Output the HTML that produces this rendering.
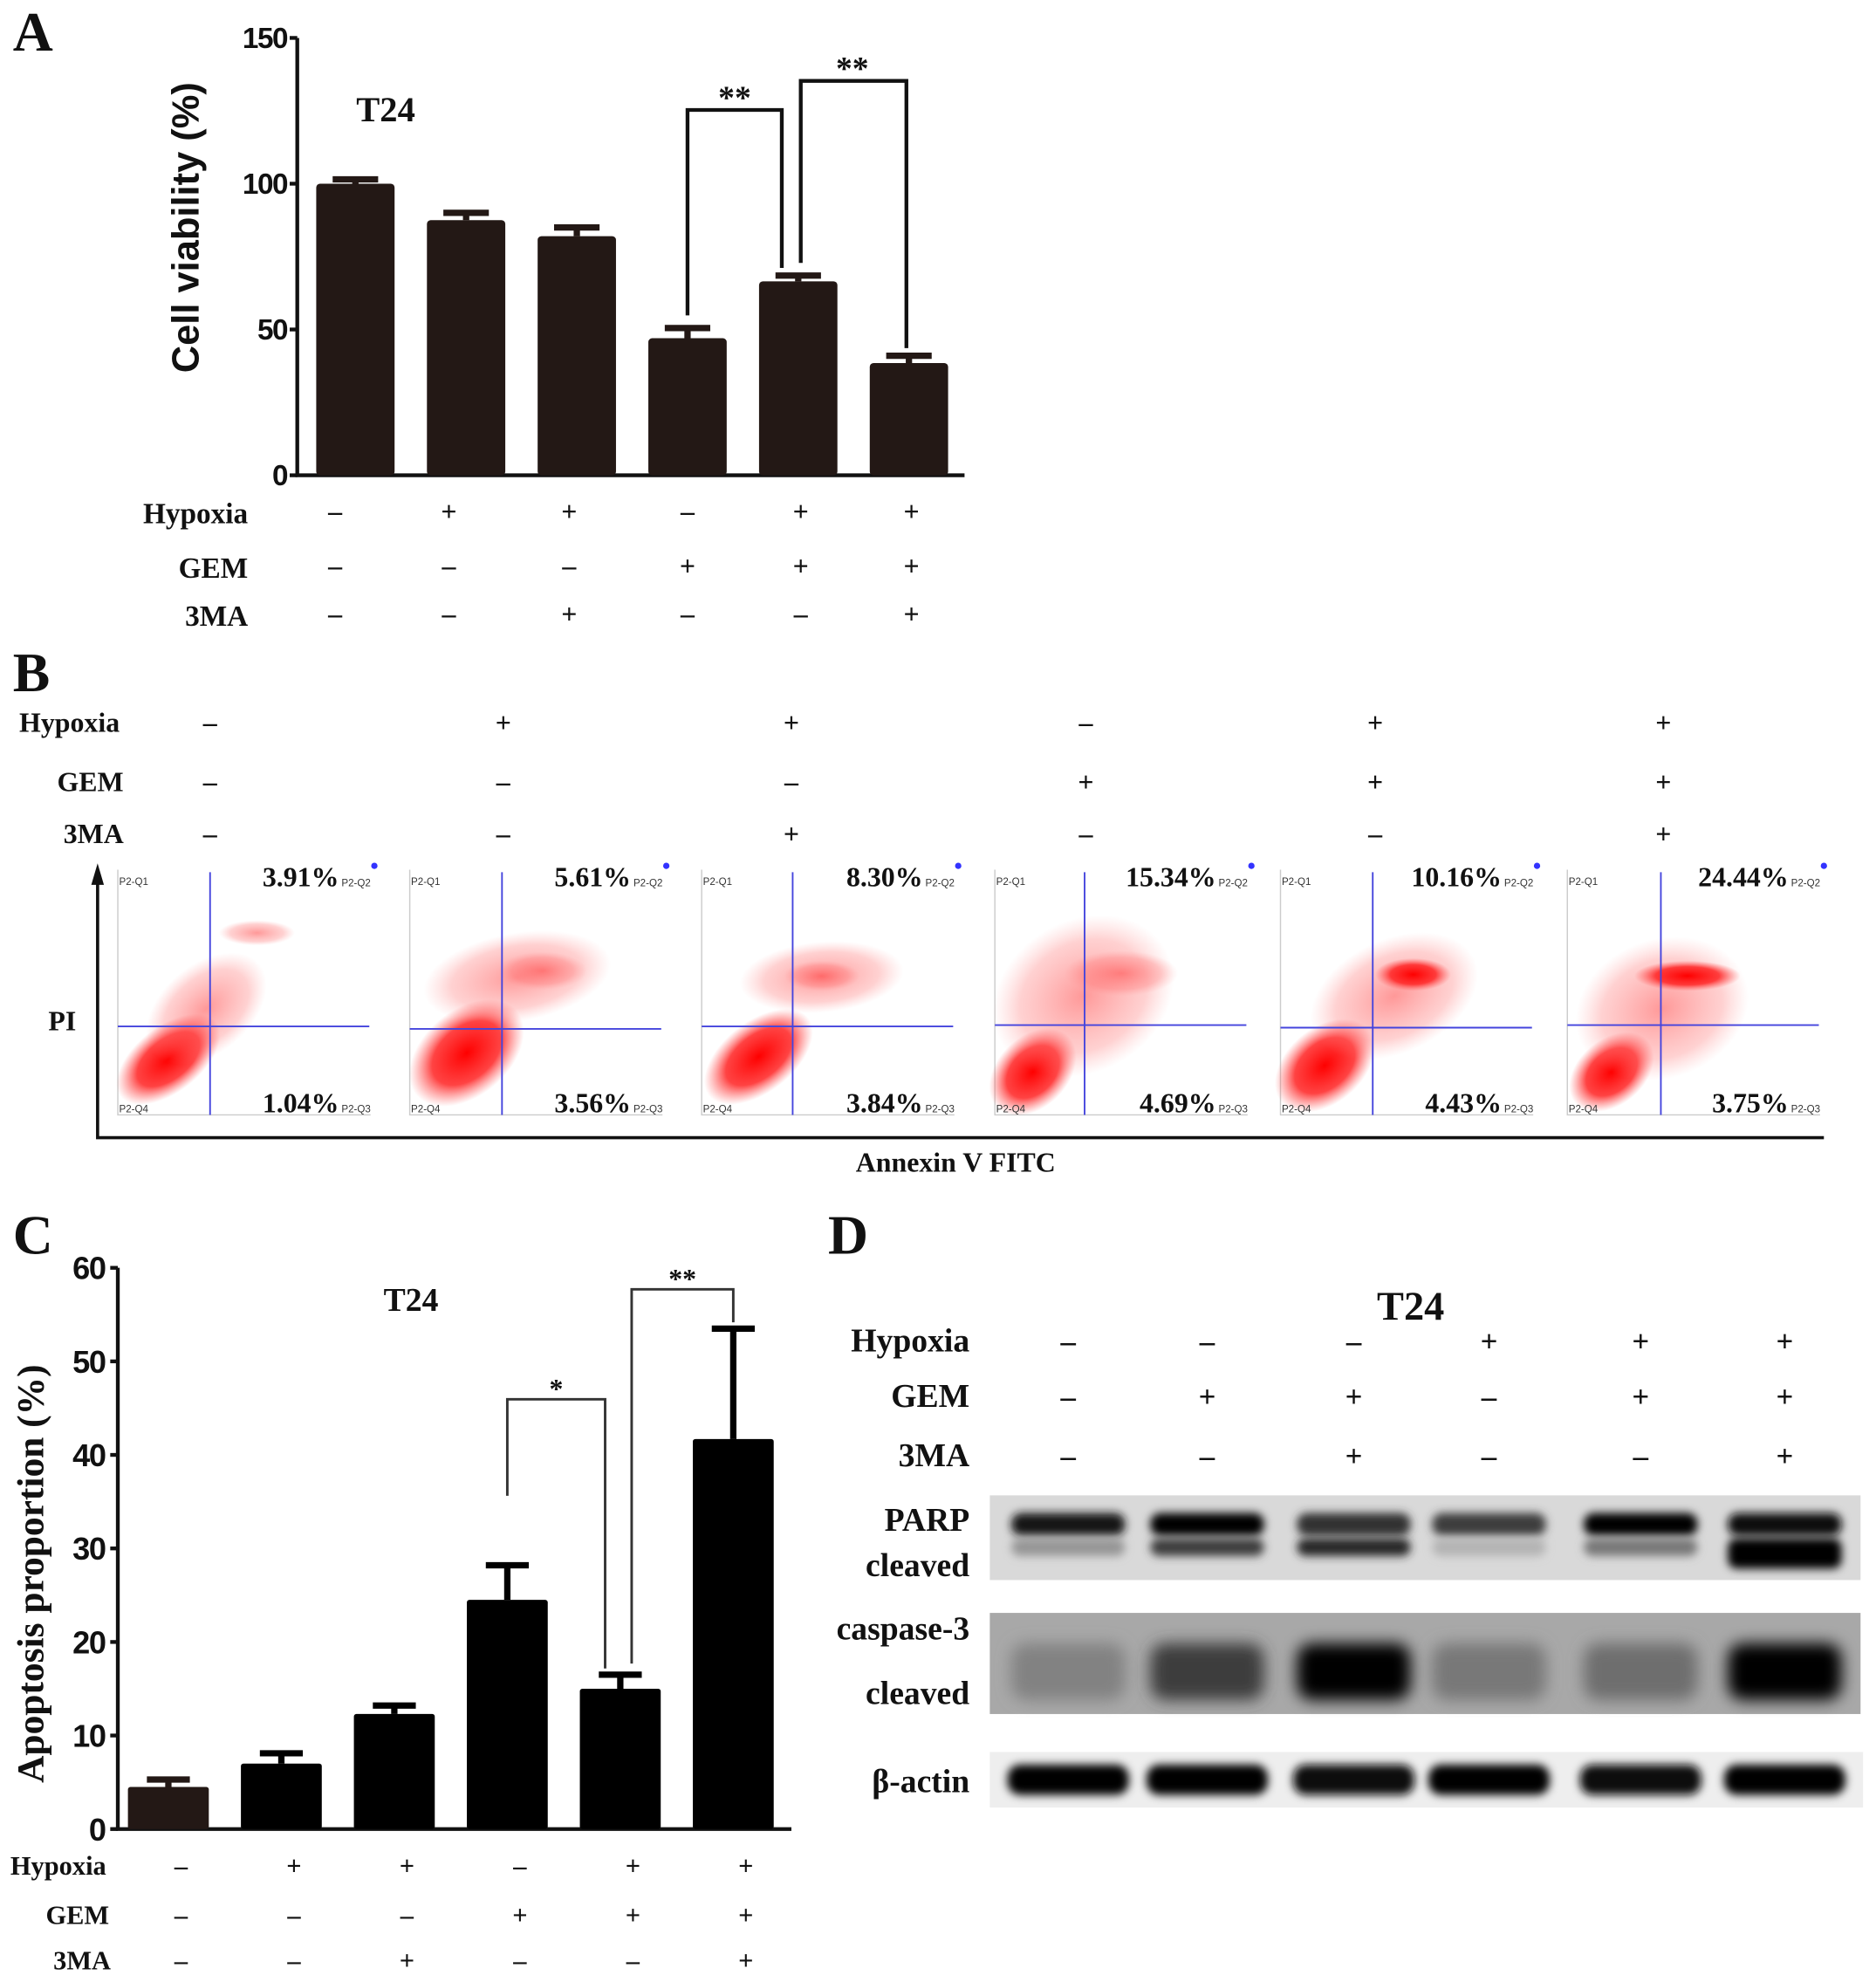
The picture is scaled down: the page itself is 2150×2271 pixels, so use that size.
<!DOCTYPE html>
<html><head><meta charset="utf-8"><style>
html,body{margin:0;padding:0;background:#fff;}
svg{display:block;}
.ser{font-family:"Liberation Serif",serif;font-weight:bold;fill:#111;}
.san{font-family:"Liberation Sans",sans-serif;font-weight:bold;fill:#111;}
</style></head><body>
<svg id="fig" width="2150" height="2271" viewBox="0 0 1484 1568" xmlns="http://www.w3.org/2000/svg">
<defs>
<filter id="blur3" x="-30%" y="-60%" width="160%" height="220%"><feGaussianBlur stdDeviation="3.5"/></filter>
<filter id="blur6" x="-30%" y="-60%" width="160%" height="220%"><feGaussianBlur stdDeviation="6"/></filter>
<radialGradient id="dense"><stop offset="0" stop-color="#f00" stop-opacity="1"/><stop offset="0.6" stop-color="#f22" stop-opacity="0.85"/><stop offset="1" stop-color="#f55" stop-opacity="0"/></radialGradient>
<radialGradient id="faint"><stop offset="0" stop-color="#f44" stop-opacity="0.55"/><stop offset="0.7" stop-color="#f66" stop-opacity="0.3"/><stop offset="1" stop-color="#f88" stop-opacity="0"/></radialGradient>
</defs>
<g id="panelA"></g>
<g id="panelB"></g>
<g id="panelC"></g>
<g id="panelD"></g>
</svg>
<script>
// ---- Panel A data ----
const aCategories = ["G1","G2","G3","G4","G5","G6"];
const aValues = [100, 87.5, 82, 47, 66.5, 38.5];
const aErrors = [1.5, 2.5, 3, 3.5, 2, 2.5];
const aTicks = [0, 50, 100, 150];
// ---- Panel C data ----
const cCategories = ["G1","G2","G3","G4","G5","G6"];
const cValues = [4.5, 7, 12.3, 24.5, 15, 41.7];
const cErrors = [0.8, 1.1, 0.9, 3.7, 1.5, 11.8];
const cTicks = [0, 10, 20, 30, 40, 50, 60];
// ---- Condition rows ----
const rowsAC = {Hypoxia:["-","+","+","-","+","+"], GEM:["-","-","-","+","+","+"], "3MA":["-","-","+","-","-","+"]};
const rowsD = {Hypoxia:["-","-","-","+","+","+"], GEM:["-","+","+","-","+","+"], "3MA":["-","-","+","-","-","+"]};
const flowTop = ["3.91%","5.61%","8.30%","15.34%","10.16%","24.44%"];
const flowBottom = ["1.04%","3.56%","3.84%","4.69%","4.43%","3.75%"];

const NS="http://www.w3.org/2000/svg";
function mk(parent, tag, attrs, text){
  const e=document.createElementNS(NS,tag);
  for(const k in attrs) e.setAttribute(k,attrs[k]);
  if(text!==undefined) e.textContent=text;
  parent.appendChild(e); return e;
}
function sym(s){return s==="+"?"+":"–";}

// ================= Panel A =================
(function(){
  const g=document.getElementById('panelA');
  const x0=235, x1=763, yTop=30, yBot=376, vmax=150;
  const y=v=>yBot-(v/vmax)*(yBot-yTop);
  const cx=i=>281+i*87.6;
  let t=mk(g,'text',{x:10,y:40,class:'ser','font-size':44});t.textContent='A';
  
  
  let ax=mk(g,'path',{d:`M${x0} ${yTop} V${yBot} H${x1}`,stroke:'#111','stroke-width':3,fill:'none'});
  
  
  aTicks.forEach(v=>{
    let tk=mk(g,'line',{x1:x0-6,x2:x0,y1:y(v),y2:y(v),stroke:'#111','stroke-width':3});
    
    
    let tl=mk(g,'text',{x:x0-8,y:y(v)+8,class:'san','font-size':23,'text-anchor':'end','letter-spacing':-1},String(v));
    
    
  });
  let yl=mk(g,'text',{x:0,y:0,class:'san','font-size':30,'text-anchor':'middle',transform:'translate(157,180) rotate(-90)'},'Cell viability (%)');
  
  
  let tt=mk(g,'text',{x:305,y:96,class:'ser','font-size':28,'text-anchor':'middle'},'T24');
  
  
  aValues.forEach((v,i)=>{
    const w=62;
    let eb=mk(g,'path',{d:`M${cx(i)} ${y(v)} V${y(v+aErrors[i])} M${cx(i)-18} ${y(v+aErrors[i])} H${cx(i)+18}`,stroke:'#231815','stroke-width':5,fill:'none'});
    
    
    let b=mk(g,'rect',{x:cx(i)-w/2,y:y(v),width:w,height:yBot-y(v),fill:'#231815',rx:3});
    
    
  });
  // significance brackets
  const br=[[3,4,87,'**'],[4,5,64,'**']];
  br.forEach(([a,b,top,s])=>{
    const ya=y(aValues[a]+aErrors[a])-10, yb=y(aValues[b]+aErrors[b])-6;
    const xa=cx(a)+(a===4?0:0), xb=cx(b)-(b===4?13:2);
    let p=mk(g,'path',{d:`M${a===4?cx(a)+2:xa} ${ya} V${top} H${xb} V${yb}`,stroke:'#111','stroke-width':3,fill:'none'});
    
    
    let st=mk(g,'text',{x:(xa+xb)/2,y:top-1,class:'ser','font-size':26,'text-anchor':'middle'},s);
    
    
  });
  const ry={Hypoxia:414,GEM:457,"3MA":495};
  for(const k in rowsAC){
    let l=mk(g,'text',{x:196,y:ry[k],class:'ser','font-size':23,'text-anchor':'end'},k);
    
    
    rowsAC[k].forEach((s,i)=>{
      let c=mk(g,'text',{x:i<2?[265,355][i]:cx(i)+(i===2?-6:i===3?0:2),y:ry[k]-2,class:'ser','font-size':22,'text-anchor':'middle','font-weight':'normal'},sym(s));
      
      
    });
  }
})();

// ================= Panel B =================
(function(){
  const g=document.getElementById('panelB');
  let t=mk(g,'text',{x:10,y:547,class:'ser','font-size':44},'B');
  
  
  const colX=[166,398,626,859,1088,1316];
  const ry={Hypoxia:579,GEM:626,"3MA":667};
  const rowsB={Hypoxia:["-","+","+","-","+","+"],GEM:["-","-","-","+","+","+"],"3MA":["-","-","+","-","-","+"]};
  for(const k in rowsB){
    let l=mk(g,'text',{x:k==='Hypoxia'?15:(k==='GEM'?45:50),y:ry[k],class:'ser','font-size':22},k);
    
    
    rowsB[k].forEach((s,i)=>{
      let c=mk(g,'text',{x:colX[i],y:ry[k],class:'ser','font-size':22,'text-anchor':'middle','font-weight':'normal'},sym(s));
      
      
    });
  }
  let ax=mk(g,'path',{d:'M77 692 V900 H1443',stroke:'#111','stroke-width':2.5,fill:'none'});
  
  
  let ar=mk(g,'path',{d:'M72 700 L77 683 L82 700 Z',fill:'#111'});
  
  
  let pi=mk(g,'text',{x:38,y:815,class:'ser','font-size':22},'PI');
  
  
  let an=mk(g,'text',{x:756,y:927,class:'ser','font-size':22,'text-anchor':'middle'},'Annexin V FITC');
  
  
  const px=[93,324,555,787,1013,1240];
  const vq=[166,397,627,858,1086,1314];
  const hq=[812,814,812,811,813,811];
  // cluster shapes: [dx,dy,rx,ry,rot,grad]
  const clusters=[
    [[40,150,48,26,-38,'dense'],[110,50,30,10,0,'faint'],[70,110,55,35,-40,'faint']],
    [[45,145,52,34,-40,'dense'],[85,85,75,35,-10,'faint'],[105,80,35,15,0,'faint']],
    [[45,148,50,28,-38,'dense'],[95,85,65,28,-5,'faint'],[95,84,30,12,0,'faint']],
    [[30,160,40,28,-45,'dense'],[70,100,75,60,-30,'faint'],[100,82,45,18,0,'faint']],
    [[35,155,45,30,-40,'dense'],[90,100,70,45,-25,'faint'],[105,83,30,13,0,'dense']],
    [[35,160,38,26,-40,'dense'],[75,110,70,55,-20,'faint'],[95,84,42,12,0,'dense']]
  ];
  for(let i=0;i<6;i++){
    const x=px[i], pg=mk(g,'g',{});
    
    
    let fr=mk(pg,'path',{d:`M${x} 688 V882 H${x+200}`,stroke:'#ccc','stroke-width':1,fill:'none'});
    
    
    clusters[i].forEach(c=>{
      let e=mk(pg,'ellipse',{cx:x+c[0],cy:688+c[1],rx:c[2],ry:c[3],fill:`url(#${c[5]})`,transform:`rotate(${c[4]} ${x+c[0]} ${688+c[1]})`});
      
      
    });
    let v=mk(pg,'line',{x1:vq[i],x2:vq[i],y1:690,y2:882,stroke:'#4444dd','stroke-width':1.3});
    
    
    let h=mk(pg,'line',{x1:x,x2:x+199,y1:hq[i],y2:hq[i],stroke:'#4444dd','stroke-width':1.3});
    
    
    const sl=[['P2-Q1',x+1,700],['P2-Q4',x+1,880]];
    sl.forEach(s=>{let q=mk(pg,'text',{x:s[1],y:s[2],'font-family':'Liberation Sans,sans-serif','font-size':8,fill:'#333'},s[0]);
      
      });
    let tp=mk(pg,'text',{x:x+175,y:701,class:'ser','font-size':22,'text-anchor':'end'},flowTop[i]);
    
    
    let q2=mk(pg,'text',{x:x+177,y:701,'font-family':'Liberation Sans,sans-serif','font-size':8,fill:'#333'},'P2-Q2');
    
    
    let bt=mk(pg,'text',{x:x+175,y:880,class:'ser','font-size':22,'text-anchor':'end'},flowBottom[i]);
    
    
    let q3=mk(pg,'text',{x:x+177,y:880,'font-family':'Liberation Sans,sans-serif','font-size':8,fill:'#333'},'P2-Q3');
    
    
    let dot=mk(pg,'circle',{cx:x+203,cy:685,r:2.5,fill:'#33f'});
    
    
  }
})();

// ================= Panel C =================
(function(){
  const g=document.getElementById('panelC');
  const x0=93, x1=626, yTop=1003, yBot=1447, vmax=60;
  const y=v=>yBot-(v/vmax)*(yBot-yTop);
  const cx=i=>133+i*89.4;
  let t=mk(g,'text',{x:10,y:992,class:'ser','font-size':44},'C');
  
  
  let ax=mk(g,'path',{d:`M${x0} ${yTop} V${yBot} H${x1}`,stroke:'#111','stroke-width':3,fill:'none'});
  
  
  cTicks.forEach(v=>{
    let tk=mk(g,'line',{x1:x0-6,x2:x0,y1:y(v),y2:y(v),stroke:'#111','stroke-width':3});
    
    
    let tl=mk(g,'text',{x:x0-10,y:y(v)+9,class:'san','font-size':25,'text-anchor':'end','letter-spacing':-1},String(v));
    
    
  });
  let yl=mk(g,'text',{x:0,y:0,class:'ser','font-size':30,'text-anchor':'middle',transform:'translate(34,1245) rotate(-90)'},'Apoptosis proportion (%)');
  
  
  let tt=mk(g,'text',{x:325,y:1037,class:'ser','font-size':26,'text-anchor':'middle'},'T24');
  
  
  cValues.forEach((v,i)=>{
    const w=64, col=i===0?'#231815':'#000';
    let eb=mk(g,'path',{d:`M${cx(i)} ${y(v)} V${y(v+cErrors[i])} M${cx(i)-17} ${y(v+cErrors[i])} H${cx(i)+17}`,stroke:col,'stroke-width':5,fill:'none'});
    
    
    let b=mk(g,'rect',{x:cx(i)-w/2,y:y(v),width:w,height:yBot-y(v),fill:col,rx:2});
    
    
  });
  const br=[[3,4,1107,'*'],[4,5,1020,'**']];
  br.forEach(([a,b,top,s])=>{
    const ya=y(cValues[a]+cErrors[a])-55, yb=y(cValues[b]+cErrors[b])-5;
    const xa=cx(a)+(a===4?9:0), xb=cx(b)-(b===4?12:0);
    let p=mk(g,'path',{d:`M${xa} ${a===4?yb+270:ya} V${top} H${xb} V${b===4?1320:yb}`,stroke:'#333','stroke-width':2,fill:'none'});
    
    
    let st=mk(g,'text',{x:(xa+xb)/2,y:top-1,class:'ser','font-size':22,'text-anchor':'middle','font-weight':'normal'},s);
    
    
  });
  const ry={Hypoxia:1483,GEM:1522,"3MA":1558};
  const lx={Hypoxia:8,GEM:36,"3MA":42};
  for(const k in rowsAC){
    let l=mk(g,'text',{x:lx[k],y:ry[k],class:'ser','font-size':21},k);
    
    
    rowsAC[k].forEach((s,i)=>{
      let c=mk(g,'text',{x:143+i*89.4,y:ry[k],class:'ser','font-size':21,'text-anchor':'middle','font-weight':'normal'},sym(s));
      
      
    });
  }
})();

// ================= Panel D =================
const parpFull = [0.9, 1.0, 0.75, 0.7, 1.0, 0.95];
const parpCleaved = [0.25, 0.7, 0.8, 0.1, 0.4, 1.0];
const caspCleaved = [0.35, 0.7, 1.0, 0.4, 0.45, 1.0];
const actin = [1, 1, 0.95, 1, 0.95, 1];
(function(){
  const g=document.getElementById('panelD');
  let t=mk(g,'text',{x:655,y:992,class:'ser','font-size':44},'D');
  
  
  let tt=mk(g,'text',{x:1116,y:1044,class:'ser','font-size':32,'text-anchor':'middle'},'T24');
  
  
  const colX=[845,955,1071,1178,1298,1412];
  const ry={Hypoxia:1069,GEM:1113,"3MA":1160};
  for(const k in rowsD){
    let l=mk(g,'text',{x:767,y:ry[k],class:'ser','font-size':26,'text-anchor':'end'},k);
    
    
    rowsD[k].forEach((s,i)=>{
      let c=mk(g,'text',{x:colX[i],y:ry[k],class:'ser','font-size':24,'text-anchor':'middle','font-weight':'normal'},sym(s));
      
      
    });
  }
  const labs=[['PARP',1211],['cleaved',1247],['caspase-3',1297],['cleaved',1348],['β-actin',1418]];
  labs.forEach(l=>{let e=mk(g,'text',{x:767,y:l[1],class:'ser','font-size':26,'text-anchor':'end'},l[0]);
    
    });
  let bg1=mk(g,'rect',{x:783,y:1183,width:689,height:67,fill:'#d9d9d9'});
  
  
  let bg2=mk(g,'rect',{x:783,y:1276,width:689,height:80,fill:'#a8a8a8'});
  
  
  let bg3=mk(g,'rect',{x:783,y:1386,width:691,height:44,fill:'#eee'});
  
  
  colX.forEach((x,i)=>{
    const gr=v=>{const c=Math.round(200-200*v);return `rgb(${c},${c},${c})`;};
    let b1=mk(g,'rect',{x:x-45,y:1197,width:90,height:18,rx:8,fill:gr(parpFull[i]),filter:'url(#blur3)'});
    
    
    let b2=mk(g,'rect',{x:x-45,y:1217+(i===5?0:0),width:90,height:i===5?24:14,rx:7,fill:gr(parpCleaved[i]),filter:'url(#blur3)'});
    
    
    let b3=mk(g,'rect',{x:x-45,y:1300,width:90,height:45,rx:12,fill:gr(caspCleaved[i]),filter:'url(#blur6)'});
    
    
    let b4=mk(g,'rect',{x:x-48,y:1396,width:96,height:24,rx:10,fill:gr(actin[i]),filter:'url(#blur3)'});
    
    
  });
})();
</script>
</body></html>
